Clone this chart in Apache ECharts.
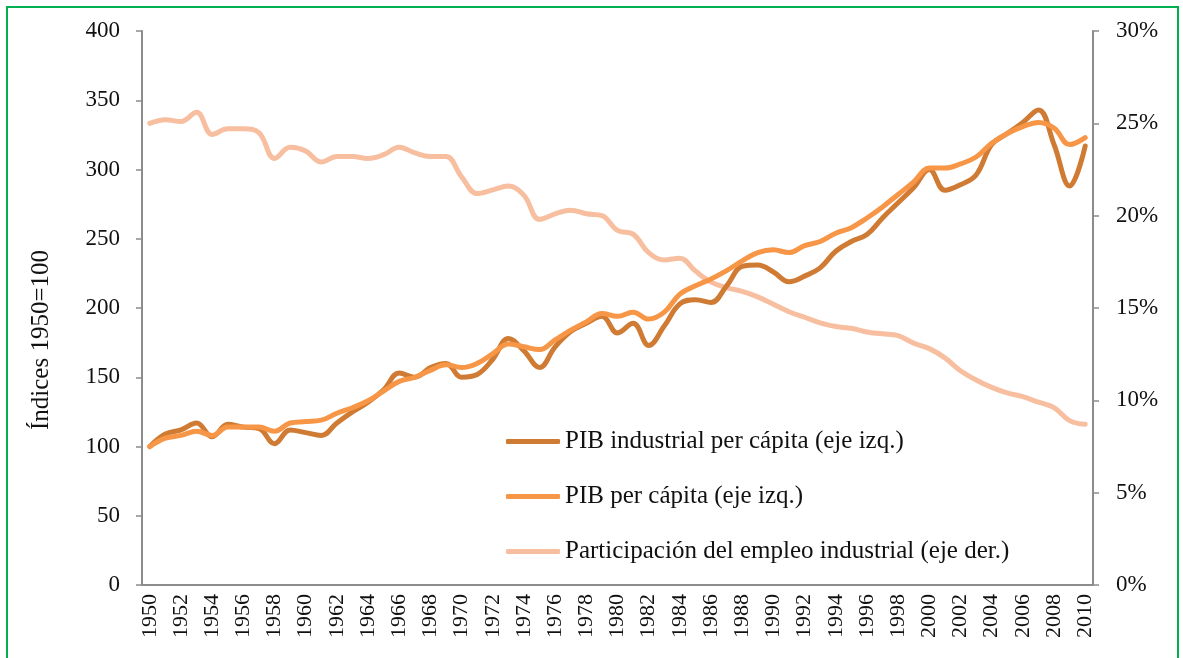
<!DOCTYPE html>
<html>
<head>
<meta charset="utf-8">
<script src="https://cdn.jsdelivr.net/npm/echarts@6/dist/echarts.min.js"></script>
<style>
  html, body { margin: 0; padding: 0; background: #fff; }
  #chart { width: 1183px; height: 658px; }
</style>
</head>
<body>
<div id="chart"></div>
<script>
// años 1950-2010
const years = [];
for (let y = 1950; y <= 2010; y++) years.push(String(y));

// PIB industrial per cápita (índice 1950=100)
const pibIndustrial = [
  100, 109, 112, 117, 107, 116, 114, 113, 102, 112,
  110, 108, 117, 125, 132, 141, 153, 150, 157, 160,
  150, 152, 163, 178, 169, 157, 172, 183, 189, 194,
  182, 189, 173, 187, 203, 206, 204, 216, 230, 231,
  226, 219, 223, 229, 241, 248, 253, 265, 276, 287,
  300, 285, 289, 296, 318, 326, 334, 343, 318, 288,
  317
];

// PIB per cápita (índice 1950=100)
const pibPerCapita = [
  100, 106, 108, 111, 108, 114, 114, 114, 111, 117,
  118, 119, 124, 128, 133, 140, 147, 150, 155, 159,
  157, 160, 167, 174, 172, 170, 177, 184, 190, 196,
  194, 197, 192, 197, 210, 216, 221, 227, 234, 240,
  242, 240, 245, 248, 254, 258, 265, 273, 282, 291,
  301, 301, 304, 309, 319, 326, 331, 334, 330, 318,
  323
];

// participación del empleo industrial (%)
const empleoIndustrial = [
  25.0, 25.2, 25.1, 25.6, 24.4, 24.7, 24.7, 24.5, 23.1, 23.7,
  23.5, 22.9, 23.2, 23.2, 23.1, 23.3, 23.7, 23.4, 23.2, 23.2,
  22.1, 21.2, 21.4, 21.6, 21.1, 19.8, 20.1, 20.3, 20.1, 20.0,
  19.2, 19.0, 18.0, 17.6, 17.7, 17.0, 16.4, 16.1, 15.9, 15.6,
  15.2, 14.8, 14.5, 14.2, 14.0, 13.9, 13.7, 13.6, 13.5, 13.1,
  12.8, 12.3, 11.6, 11.1, 10.7, 10.4, 10.2, 9.9, 9.6, 8.9,
  8.7
];

const font = "'Liberation Serif', 'DejaVu Serif', serif";
const axisColor = "#8c8c8c";
const textColor = "#111";

const chart = echarts.init(document.getElementById("chart"));

const option = {
  animation: false,
  textStyle: { fontFamily: font },
  grid: { left: 142, right: 90, top: 31, bottom: 73 },
  legend: {
    orient: "vertical",
    left: 501,
    top: 423,
    itemWidth: 54,
    itemHeight: 5,
    itemGap: 28,
    icon: "roundRect",
    textStyle: { fontFamily: font, fontSize: 25, color: textColor, lineHeight: 27, padding: [0, 0, 0, 0] },
    data: [
      "PIB industrial per cápita (eje izq.)",
      "PIB per cápita (eje izq.)",
      "Participación del empleo industrial (eje der.)"
    ]
  },
  xAxis: {
    type: "category",
    data: years,
    boundaryGap: true,
    axisLine: { lineStyle: { color: axisColor, width: 2 } },
    axisTick: { interval: 0, length: 6, lineStyle: { color: axisColor, width: 1.5 } },
    axisLabel: {
      interval: 1,
      rotate: 90,
      margin: 9,
      fontFamily: font,
      fontSize: 22,
      color: textColor
    },
    splitLine: { show: false }
  },
  yAxis: [
    {
      type: "value",
      min: 0,
      max: 400,
      interval: 50,
      axisLine: { show: true, lineStyle: { color: axisColor, width: 2 } },
      axisTick: { show: true, length: 6, lineStyle: { color: axisColor, width: 1.5 } },
      axisLabel: { margin: 22, fontFamily: font, fontSize: 23, color: textColor },
      splitLine: { show: false }
    },
    {
      type: "value",
      min: 0,
      max: 30,
      interval: 5,
      position: "right",
      axisLine: { show: true, lineStyle: { color: axisColor, width: 2 } },
      axisTick: { show: true, length: 6, lineStyle: { color: axisColor, width: 1.5 } },
      axisLabel: {
        margin: 23,
        fontFamily: font,
        fontSize: 23,
        color: textColor,
        formatter: "{value}%"
      },
      splitLine: { show: false }
    }
  ],
  graphic: [
    {
      type: "rect",
      shape: { x: 7, y: 7, width: 1171, height: 680 },
      style: { fill: "none", stroke: "#00B050", lineWidth: 2 },
      silent: true
    },
    {
      type: "text",
      x: 41,
      y: 340,
      rotation: Math.PI / 2,
      style: {
        text: "Índices 1950=100",
        font: "25px " + font,
        fill: textColor,
        textAlign: "center",
        textVerticalAlign: "middle"
      }
    }
  ],
  series: [
    {
      name: "Participación del empleo industrial (eje der.)",
      type: "line",
      yAxisIndex: 1,
      data: empleoIndustrial,
      smooth: 0.4,
      symbol: "none",
      lineStyle: { color: "#F7BFA0", width: 5, cap: "round" },
      itemStyle: { color: "#F7BFA0" },
      z: 1
    },
    {
      name: "PIB industrial per cápita (eje izq.)",
      type: "line",
      yAxisIndex: 0,
      data: pibIndustrial,
      smooth: 0.4,
      symbol: "none",
      lineStyle: { color: "#D07B34", width: 5, cap: "round" },
      itemStyle: { color: "#D07B34" },
      z: 2
    },
    {
      name: "PIB per cápita (eje izq.)",
      type: "line",
      yAxisIndex: 0,
      data: pibPerCapita,
      smooth: 0.4,
      symbol: "none",
      lineStyle: { color: "#F79646", width: 5, cap: "round" },
      itemStyle: { color: "#F79646" },
      z: 3
    }
  ]
};

chart.setOption(option);
</script>
</body>
</html>
